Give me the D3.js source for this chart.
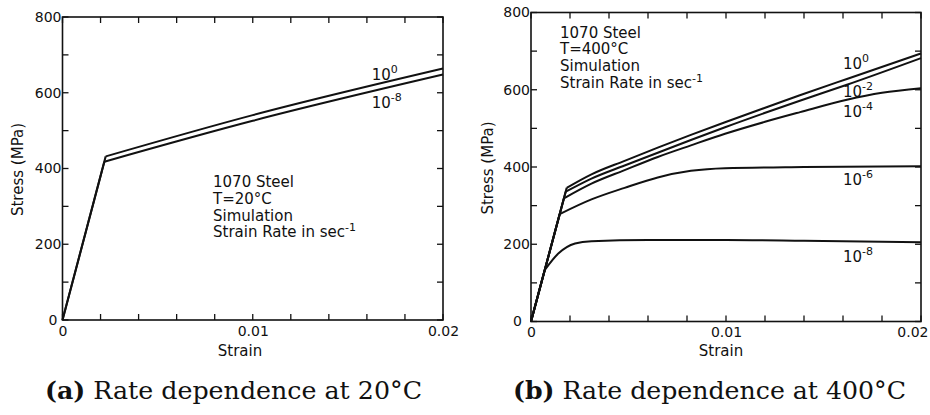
<!DOCTYPE html>
<html>
<head>
<meta charset="utf-8">
<script src="https://cdn.jsdelivr.net/npm/d3@7"></script>
<style>
  body { margin: 0; background: #fff; }
  text { font-family: "DejaVu Sans", sans-serif; fill: #111; }
  .caption { font-family: "DejaVu Serif", serif; }
</style>
</head>
<body>
<div id="chart"></div>
<script>
const width = 930, height = 415;

// axis ticks (shared by both panels)
const strainTicks = [0, 0.002, 0.004, 0.006, 0.008, 0.01, 0.012, 0.014, 0.016, 0.018, 0.02];
const strainLabels = [0, 0.01, 0.02];
const stressTicks = [0, 100, 200, 300, 400, 500, 600, 700, 800];
const stressLabels = [0, 200, 400, 600, 800];

// panel (a): 1070 steel at 20°C, strain rates 10^0 and 10^-8
const strain20_e0 = [0, 0.00227, 0.01, 0.02];
const stress20_e0 = [0, 432, 541, 664];
const strain20_e8 = [0, 0.0022, 0.01, 0.02];
const stress20_e8 = [0, 418, 526, 648];

// panel (b): 1070 steel at 400°C
const strain400_e0 = [0, 0.00183, 0.0031, 0.0048, 0.0065, 0.0082, 0.00995, 0.01375, 0.0162, 0.02];
const stress400_e0 = [0, 346, 381, 416, 450, 483, 516, 585, 628, 694];
const strain400_e2 = [0, 0.00178, 0.0031, 0.0048, 0.0065, 0.0082, 0.00995, 0.01375, 0.0162, 0.02];
const stress400_e2 = [0, 336, 370, 404, 437, 470, 503, 571, 613, 682];
const strain400_e4 = [0, 0.00169, 0.0031, 0.0048, 0.0065, 0.0082, 0.00995, 0.012, 0.0138, 0.0162, 0.018, 0.02];
const stress400_e4 = [0, 319, 357, 392, 426, 456, 486, 517, 542, 574, 592, 604];
const strain400_e6 = [0, 0.00147, 0.0031, 0.0048, 0.0065, 0.0082, 0.00995, 0.014, 0.02];
const stress400_e6 = [0, 278, 316, 346, 373, 390, 397, 400, 402];
const strain400_e8 = [0, 0.0007, 0.0014, 0.00226, 0.0031, 0.006, 0.01, 0.014, 0.02];
const stress400_e8 = [0, 133, 176, 202, 208, 211, 211, 209, 205];

// curve labels: exponent of the strain rate, placed in data units
const labelExp20 = ["0", "-8"];
const labelStrain20 = [0.01625, 0.01625];
const labelStress20 = [633, 559];
const labelExp400 = ["0", "-2", "-4", "-6", "-8"];
const labelStrain400 = [0.016, 0.016, 0.016, 0.016, 0.016];
const labelStress400 = [653, 581, 530, 353, 154];

const notes20 = ["1070 Steel", "T=20°C", "Simulation", "Strain Rate in sec"];
const notes400 = ["1070 Steel", "T=400°C", "Simulation", "Strain Rate in sec"];

const svg = d3.select("#chart").append("svg")
    .attr("width", width).attr("height", height);

function zip(xs, ys) { return xs.map((x, i) => [x, ys[i]]); }

function drawPanel(p) {
    const x = d3.scaleLinear().domain([0, 0.02]).range([p.left, p.right]);
    const y = d3.scaleLinear().domain([0, 800]).range([p.bottom, p.top]);
    const g = svg.append("g");
    const tk = 6; // inward tick length

    // tick labels via axes (no lines), tick marks drawn inward on all four sides
    const fmtX = d => strainLabels.includes(d) ? (d === 0 ? "0" : d3.format(".2f")(d)) : "";
    const fmtY = d => stressLabels.includes(d) ? d : "";

    const bottom = g.append("g").attr("transform", `translate(0,${p.bottom})`)
        .call(d3.axisBottom(x).tickValues(strainTicks).tickSize(0).tickPadding(6).tickFormat(fmtX));
    const left = g.append("g").attr("transform", `translate(${p.left},0)`)
        .call(d3.axisLeft(y).tickValues(stressTicks).tickSize(0).tickPadding(1).tickFormat(fmtY));
    g.selectAll(".domain").remove();
    g.selectAll(".tick line").remove();
    g.selectAll(".tick text").attr("font-size", 14).attr("font-family", "DejaVu Sans").attr("fill", "#111");
    left.selectAll(".tick text").filter(d => d === 0).attr("x", p.zeroX);
    // last strain label sits against the page edge in panel (b)
    if (p.lastEnd) {
        bottom.selectAll(".tick text").filter(d => d === 0.02)
            .attr("text-anchor", "end").attr("x", p.lastEnd - p.right);
    }

    const ticks = g.append("g").attr("stroke", "#111").attr("stroke-width", 1.3);
    ticks.selectAll(".xb").data(strainTicks).join("line")
        .attr("x1", d => x(d)).attr("x2", d => x(d))
        .attr("y1", p.bottom).attr("y2", p.bottom - tk);
    ticks.selectAll(".xt").data(strainTicks).join("line")
        .attr("x1", d => x(d)).attr("x2", d => x(d))
        .attr("y1", p.top).attr("y2", p.top + tk);
    ticks.selectAll(".yl").data(stressTicks).join("line")
        .attr("x1", p.left).attr("x2", p.left + tk)
        .attr("y1", d => y(d)).attr("y2", d => y(d));
    ticks.selectAll(".yr").data(stressTicks).join("line")
        .attr("x1", p.right).attr("x2", p.right - tk)
        .attr("y1", d => y(d)).attr("y2", d => y(d));

    g.append("rect")
        .attr("x", p.left).attr("y", p.top)
        .attr("width", p.right - p.left).attr("height", p.bottom - p.top)
        .attr("fill", "none").attr("stroke", "#111").attr("stroke-width", 1.6);

    // curves: straight elastic part, smooth plastic part
    const lin = d3.line().x(d => x(d[0])).y(d => y(d[1]));
    const smooth = d3.line().x(d => x(d[0])).y(d => y(d[1])).curve(d3.curveMonotoneX);
    p.series.forEach(s => {
        g.append("path").attr("d", lin(s.slice(0, 2)))
            .attr("fill", "none").attr("stroke", "#111").attr("stroke-width", 2);
        g.append("path").attr("d", smooth(s.slice(1)))
            .attr("fill", "none").attr("stroke", "#111").attr("stroke-width", 2)
            .attr("stroke-linejoin", "round");
    });

    // rate labels 10^n
    p.labels.forEach(l => {
        const t = g.append("text").attr("x", x(l[1])).attr("y", y(l[2])).attr("font-size", 15);
        t.append("tspan").text("10");
        t.append("tspan").attr("dy", -7).attr("font-size", 11).text(l[0]);
    });

    // note block
    p.notes.forEach((n, i) => {
        const t = g.append("text").attr("x", p.noteX).attr("y", p.noteY + i * 16.8).attr("font-size", 15);
        t.append("tspan").text(n);
        if (i === p.notes.length - 1) t.append("tspan").attr("dy", -6).attr("font-size", 11).text("-1");
    });

    g.append("text")
        .attr("transform", `translate(${p.ylabX},${(p.top + p.bottom) / 2 + 1}) rotate(-90)`)
        .attr("text-anchor", "middle").attr("dominant-baseline", "central")
        .attr("font-size", 15).text("Stress (MPa)");
    g.append("text")
        .attr("x", p.xlabX).attr("y", 356)
        .attr("text-anchor", "middle").attr("font-size", 15).text("Strain");

    const cap = g.append("text").attr("class", "caption")
        .attr("x", p.capX).attr("y", 399)
        .attr("text-anchor", "middle").attr("font-size", 24.5)
        .attr("textLength", p.capW).attr("lengthAdjust", "spacingAndGlyphs");
    cap.append("tspan").attr("font-weight", "bold").text(p.capTag);
    cap.append("tspan").text(p.capText);
}

drawPanel({
    left: 62.5, right: 443, top: 17, bottom: 320, zeroX: -5,
    series: [zip(strain20_e0, stress20_e0), zip(strain20_e8, stress20_e8)],
    labels: labelExp20.map((e, i) => [e, labelStrain20[i], labelStress20[i]]),
    notes: notes20, noteX: 213, noteY: 187,
    ylabX: 18, xlabX: 240, capX: 233.5, capW: 377,
    capTag: "(a)", capText: " Rate dependence at 20°C"
});

drawPanel({
    left: 531, right: 921, top: 12.5, bottom: 321.5, zeroX: -9, lastEnd: 928,
    series: [zip(strain400_e0, stress400_e0), zip(strain400_e2, stress400_e2),
             zip(strain400_e4, stress400_e4), zip(strain400_e6, stress400_e6),
             zip(strain400_e8, stress400_e8)],
    labels: labelExp400.map((e, i) => [e, labelStrain400[i], labelStress400[i]]),
    notes: notes400, noteX: 560, noteY: 37.5,
    ylabX: 488, xlabX: 721, capX: 709.5, capW: 393,
    capTag: "(b)", capText: " Rate dependence at 400°C"
});
</script>
</body>
</html>
